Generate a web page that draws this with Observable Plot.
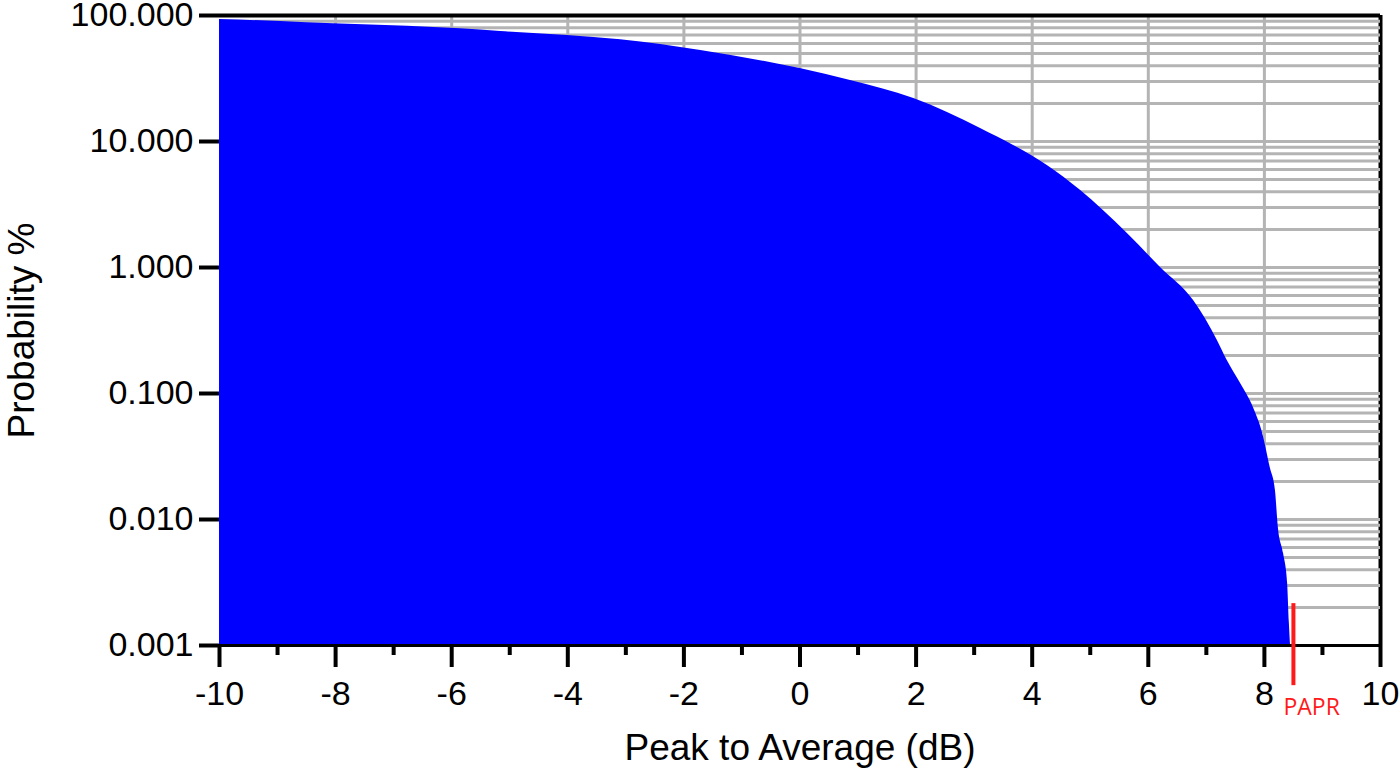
<!DOCTYPE html>
<html>
<head>
<meta charset="utf-8">
<script src="https://cdn.jsdelivr.net/npm/d3@7"></script>
<script src="https://cdn.jsdelivr.net/npm/@observablehq/plot@0.6"></script>
<style>
  html, body { margin: 0; padding: 0; background: #fff; }
</style>
</head>
<body>
<div id="chart"></div>
<script>
// Peak-to-average ratio (dB)
const peakDb = [-10, -8.95, -8.04, -6.76, -5.85, -5.16, -4.01, -3.09, -1.71, 0.0, 0.87, 1.96, 2.54, 3.11, 3.68, 4.26, 4.83, 5.64, 6.21, 6.78, 7.19, 7.36, 7.59, 7.81, 7.97, 8.10, 8.19, 8.24, 8.33, 8.40, 8.43, 8.45];
// Probability (%) that the peak exceeds the value
const probPct = [93.0, 89.6, 85.9, 82.2, 78.4, 74.6, 69.4, 64.1, 52.7, 37.9, 30.5, 21.9, 17.0, 12.7, 9.30, 6.45, 4.10, 1.86, 1.00, 0.547, 0.264, 0.183, 0.120, 0.0774, 0.0482, 0.0259, 0.0170, 0.00865, 0.00537, 0.00310, 0.00150, 0.0010];

const xMajorTicks = [-10, -8, -6, -4, -2, 0, 2, 4, 6, 8, 10];
const xMinorTicks = [-9, -7, -5, -3, -1, 1, 3, 5, 7, 9];
const xGrid = [-8, -6, -4, -2, 0, 2, 4, 6, 8];
const yTicks = [100, 10, 1, 0.1, 0.01, 0.001];
const yGrid = [];
for (const dec of [0.001, 0.01, 0.1, 1, 10]) {
  for (let m = 1; m <= 9; m++) if (!(dec === 0.001 && m === 1)) yGrid.push(+(m * dec).toPrecision(3));
}
const xDomain = [-10, 10];
const yDomain = [0.001, 100];

// PAPR marker
const paprDb = 8.5;
const paprTop = 0.00215;
const paprBottom = 0.00048;

const data = peakDb.map((x, i) => ({db: x, p: probPct[i]}));

const chart = Plot.plot({
  width: 1400,
  height: 774,
  marginTop: 15,
  marginBottom: 129,
  marginLeft: 219,
  marginRight: 20,
  x: {domain: xDomain, label: null},
  y: {type: "log", domain: yDomain, label: null},
  style: {fontFamily: "'Liberation Sans', Arial, sans-serif", fontSize: "34px", color: "#000", background: "#fff"},
  marks: [
    // right border
    Plot.ruleX([xDomain[1]], {y1: yDomain[0], y2: yDomain[1], stroke: "#000", strokeWidth: 4}),
    // grid
    Plot.ruleY(yGrid, {x1: xDomain[0], x2: xDomain[1], stroke: "#b4b4b4", strokeWidth: 3}),
    Plot.ruleX(xGrid, {y1: yDomain[0], y2: yDomain[1], stroke: "#b4b4b4", strokeWidth: 3}),
    // filled CCDF
    Plot.areaY(data, {x: "db", y1: yDomain[0], y2: "p", fill: "#0000ff", curve: "monotone-x"}),
    // top and bottom borders
    Plot.ruleY([yDomain[1]], {x1: xDomain[0], x2: xDomain[1], stroke: "#000", strokeWidth: 4}),
    Plot.ruleY([yDomain[0]], {x1: xDomain[0], x2: xDomain[1], stroke: "#000", strokeWidth: 3}),
    // axes
    Plot.axisX(xMajorTicks, {tickSize: 22, tickPadding: 13, strokeWidth: 4, fontSize: 34, tickFormat: d => String(d), label: null}),
    Plot.axisX(xMinorTicks, {tickSize: 10, strokeWidth: 4, tickFormat: () => "", label: null}),
    Plot.axisY(yTicks, {tickSize: 20, tickPadding: 6, strokeWidth: 4, fontSize: 34, tickFormat: d3.format(".3f"), label: null}),
    // axis titles
    Plot.text(["Peak to Average (dB)"], {frameAnchor: "bottom", dy: 103, fontSize: 37, lineAnchor: "middle"}),
    Plot.text(["Probability %"], {frameAnchor: "left", rotate: -90, dx: -197, fontSize: 37, textAnchor: "middle", lineAnchor: "middle"}),
    // PAPR marker
    Plot.ruleX([paprDb], {y1: paprTop, y2: paprBottom, stroke: "#ff1a1a", strokeWidth: 4}),
    Plot.text(["PAPR"], {x: paprDb, frameAnchor: "bottom", textAnchor: "start", dx: -10, dy: 53, lineAnchor: "top", fill: "#ff1a1a", fontSize: 23, fontFamily: "'Open Sans', sans-serif"})
  ]
});
document.getElementById("chart").appendChild(chart);
</script>
</body>
</html>
